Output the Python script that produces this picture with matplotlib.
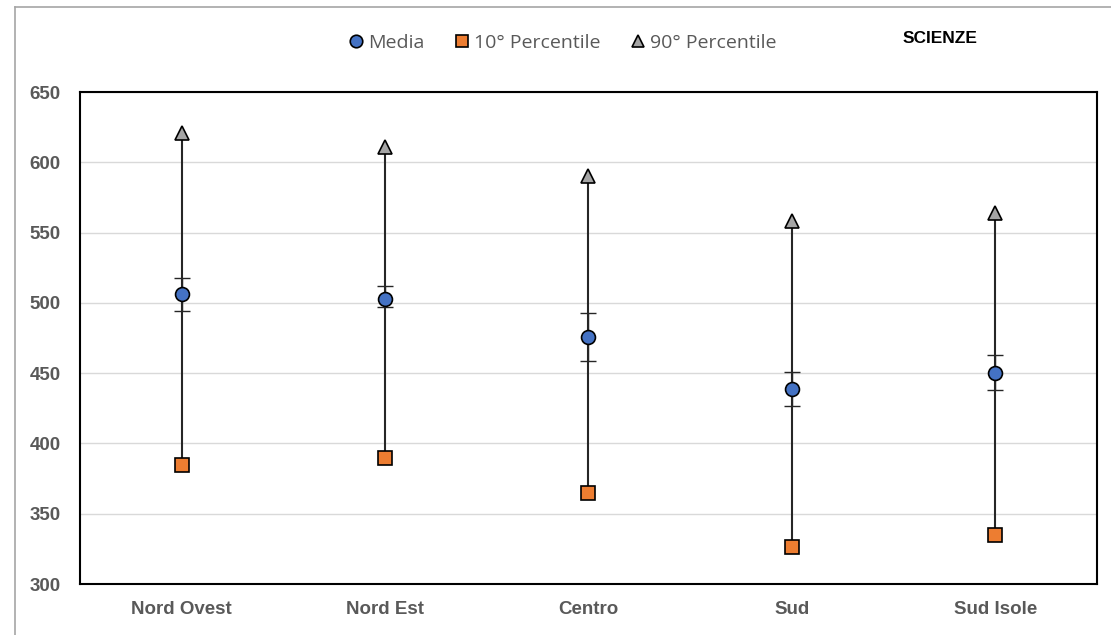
import matplotlib
matplotlib.use("Agg")
import matplotlib.pyplot as plt
import numpy as np

# macro-aree e valori
aree = ["Nord Ovest", "Nord Est", "Centro", "Sud", "Sud Isole"]
media = [506, 503, 476, 439, 450]
p10 = [385, 390, 365, 326, 335]
p90 = [621, 611, 590, 558, 564]
ci_basso = [494, 497, 459, 427, 438]
ci_alto = [518, 512, 493, 451, 463]

grigio = "#595959"
narrow = ["Liberation Sans Narrow", "Liberation Sans", "DejaVu Sans"]

fig = plt.figure(figsize=(11.11, 6.35), dpi=100)
ax = fig.add_axes([0.072, 0.0803, 0.9154, 0.7747])

x = np.arange(len(aree))
media_a = np.array(media)

ax.vlines(x, p10, p90, color="#262626", linewidth=1.5, zorder=2)
ax.errorbar(x, media, yerr=[media_a - np.array(ci_basso), np.array(ci_alto) - media_a],
            fmt="none", ecolor="#262626", elinewidth=1.0, capsize=6, capthick=1.0, zorder=2)

ax.plot(x, media, "o", ms=10, mfc="#4472C4", mec="black", mew=1.2, ls="none", label="Media", zorder=3)
ax.plot(x, p10, "s", ms=9.5, mfc="#ED7D31", mec="black", mew=1.2, ls="none", label="10° Percentile", zorder=3)
ax.plot(x, p90, "^", ms=9.5, mfc="#A5A5A5", mec="black", mew=1.2, ls="none", label="90° Percentile", zorder=3)

ax.set_xlim(-0.5, len(aree) - 0.5)
ax.set_ylim(300, 650)
ax.set_yticks(range(300, 651, 50))
ax.set_xticks(x)
ax.set_xticklabels(aree)
ax.yaxis.grid(True, color="#d9d9d9", linewidth=1.0)
ax.set_axisbelow(True)
for s in ax.spines.values():
    s.set_linewidth(1.5)
    s.set_color("black")
ax.tick_params(length=0)
ax.tick_params(axis="y", pad=14)
ax.tick_params(axis="x", pad=12)
for lab in ax.get_xticklabels() + ax.get_yticklabels():
    lab.set_family(narrow)
    lab.set_fontweight("bold")
    lab.set_fontsize(13.5)
    lab.set_color(grigio)

leg = fig.legend(loc="center", bbox_to_anchor=(0.506, 0.932), ncol=3, frameon=False,
                 handletextpad=0.15, columnspacing=1.5, handlelength=0.9, markerscale=0.9,
                 prop={"family": ["Open Sans", "DejaVu Sans"], "size": 14})
for t in leg.get_texts():
    t.set_color(grigio)

fig.text(0.846, 0.94, "SCIENZE", family=narrow, fontweight="bold", fontsize=12.5,
         color="black", ha="center", va="center")

# cornice esterna
fig.add_artist(plt.Line2D([0.0135, 0.0135], [0, 0.989], transform=fig.transFigure, color="#a6a6a6", lw=1.2))
fig.add_artist(plt.Line2D([0.0135, 1.0], [0.989, 0.989], transform=fig.transFigure, color="#a6a6a6", lw=1.2))

fig.savefig("out.png", dpi=100)
